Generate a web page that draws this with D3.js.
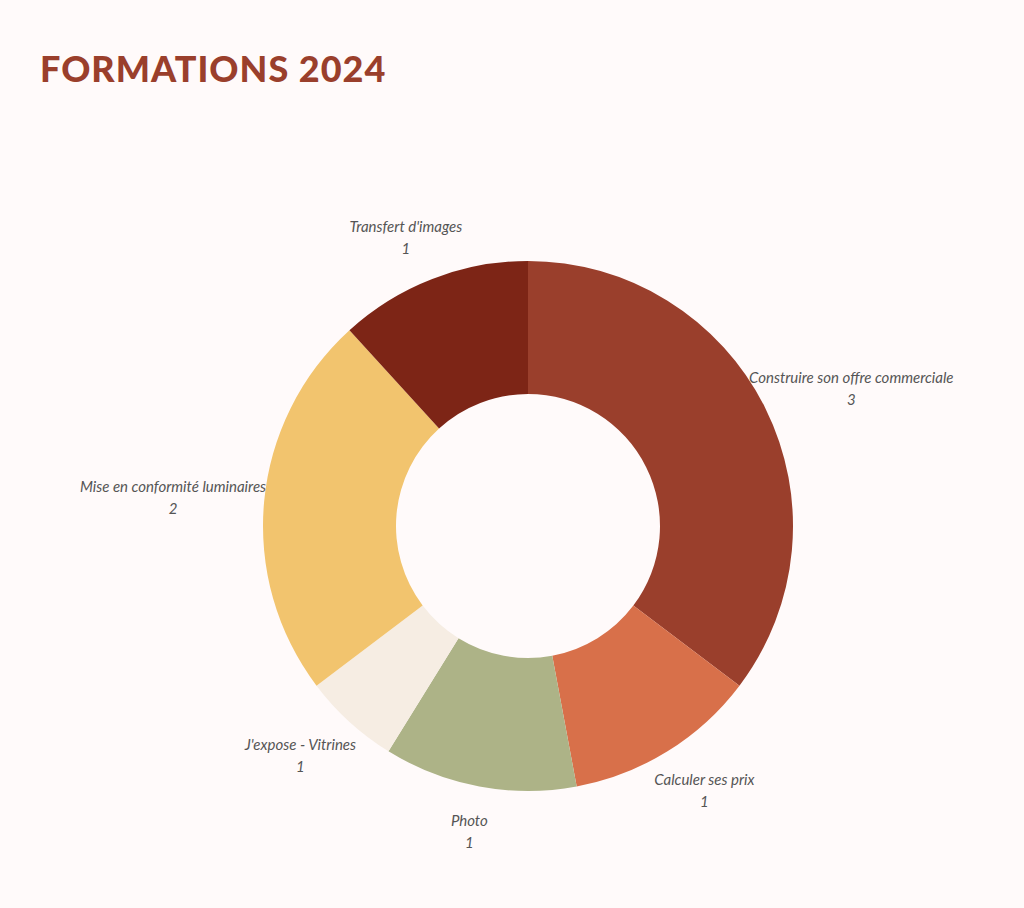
<!DOCTYPE html>
<html>
<head>
<meta charset="utf-8">
<script src="https://cdn.jsdelivr.net/npm/d3@7"></script>
<style>
  body { margin: 0; background: #fffafa; }
</style>
</head>
<body>
<div id="container"></div>
<script>
/* DATA */
const categories = ["Construire son offre commerciale", "Calculer ses prix", "Photo", "J'expose - Vitrines", "Mise en conformité luminaires", "Transfert d'images"]
const values = [3, 1, 1, 0.5, 2, 1]          // slice sizes as drawn
const labelValues = ["3", "1", "1", "1", "2", "1"] // numbers printed on labels
const colors = ["#9a3f2c", "#d8704a", "#adb387", "#f6ede3", "#f2c46e", "#7d2516"]

const width = 1024, height = 908
const cx = 528, cy = 526, outer = 265, inner = 132

const svg = d3.select("#container").append("svg")
  .attr("width", width).attr("height", height)

svg.append("text")
  .attr("x", 40).attr("y", 82)
  .attr("font-family", "Lato, 'DejaVu Sans', sans-serif")
  .attr("font-weight", 900)
  .attr("font-size", 36)
  .attr("letter-spacing", 1)
  .attr("fill", "#9a3f2c")
  .text("FORMATIONS  2024")

const pie = d3.pie().sort(null).value(d => d.v)
const arcs = pie(categories.map((c, i) => ({ c, v: values[i], lab: labelValues[i], col: colors[i] })))
const arc = d3.arc().innerRadius(inner).outerRadius(outer)

const g = svg.append("g").attr("transform", `translate(${cx},${cy})`)

g.selectAll("path").data(arcs).join("path")
  .attr("d", arc)
  .attr("fill", d => d.data.col)

// LABELS
const lr = 310
const lab = g.selectAll("text.lab").data(arcs).join("text")
  .attr("class", "lab")
  .attr("text-anchor", "middle")
  .attr("font-family", "Lato, 'Open Sans', sans-serif")
  .attr("font-style", "italic")
  .attr("font-size", 15)
  .attr("fill", "#555")

lab.each(function (d) {
  const a = (d.startAngle + d.endAngle) / 2
  const t = d3.select(this)
  t.append("tspan").text(d.data.c)
  const w = this.getComputedTextLength()
  const x = lr * Math.sin(a) + Math.sign(Math.sin(a)) * (w / 4) * Math.abs(Math.sin(a))
  const y = -lr * Math.cos(a)
  t.select("tspan").attr("x", x).attr("y", y - 5)
  t.append("tspan").attr("x", x).attr("y", y + 17).text(d.data.lab)
})
</script>
</body>
</html>
